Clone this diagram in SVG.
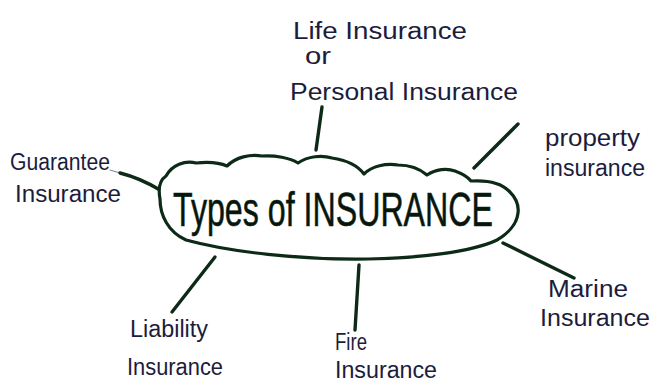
<svg xmlns="http://www.w3.org/2000/svg" width="654" height="385" viewBox="0 0 654 385">
  <style>
    .cloud { fill: #ffffff; stroke: #0c2a16; stroke-width: 3.2; stroke-linejoin: round; stroke-linecap: round; }
    .link { fill: none; stroke: #0c2a16; stroke-width: 3.4; stroke-linecap: round; }
    .thin { fill: none; stroke: #8a8a95; stroke-width: 1.2; stroke-linecap: round; }
    .hand { font-family: "Liberation Sans", "DejaVu Sans", sans-serif; font-size: 23px; fill: #1c1c3c; }
    .title { font-family: "Liberation Sans", "DejaVu Sans", sans-serif; font-size: 48px; fill: #08140c; stroke: #0c2a16; stroke-width: 0.6; }
  </style>
  <rect width="654" height="385" fill="#ffffff"/>

  <!-- connectors from the central cloud to each insurance type -->
  <g id="connectors">
    <path class="link" d="M322,107 L316,150"/>
    <path class="link" d="M518,124 L474,168"/>
    <path class="thin" d="M110,170 L120,173"/>
    <path class="link" d="M120,173 Q140,178 160,190"/>
    <path class="link" d="M215,257 L172,312"/>
    <path class="link" d="M359,265 L355,330"/>
    <path class="link" d="M503,243 L574,278"/>
  </g>

  <!-- central cloud -->
  <g id="center">
    <path class="cloud" d="M160,199
      C158,188 160,180 166,176
      C172,165 185,160 196,163
      C205,162 218,162 227,166
      C236,157 250,154 262,156
      C275,155 290,158 298,163
      C308,156 322,155 332,158
      C346,160 358,166 364,174
      C372,166 386,163 398,165
      C410,165 420,169 427,175
      C436,169 447,168 455,171
      C463,174 468,177 471,181
      C487,180 501,183 509,191
      C516,198 519,206 518,213
      C517,223 509,233 497,240
      C472,252 420,258 368,259
      C300,260 230,252 186,240
      C168,232 160,215 160,199 Z"/>
    <text class="title" x="173" y="226" textLength="320" lengthAdjust="spacingAndGlyphs">Types of INSURANCE</text>
  </g>

  <g id="life">
    <text class="hand" x="293" y="39" textLength="174" lengthAdjust="spacingAndGlyphs">Life Insurance</text>
    <text class="hand" x="305" y="64" textLength="26" lengthAdjust="spacingAndGlyphs">or</text>
    <text class="hand" x="290" y="100" textLength="228" lengthAdjust="spacingAndGlyphs">Personal Insurance</text>
  </g>

  <g id="property">
    <text class="hand" x="545" y="146" textLength="95" lengthAdjust="spacingAndGlyphs">property</text>
    <text class="hand" x="545" y="176" textLength="100" lengthAdjust="spacingAndGlyphs">insurance</text>
  </g>

  <g id="guarantee">
    <text class="hand" x="10" y="170" textLength="100" lengthAdjust="spacingAndGlyphs">Guarantee</text>
    <text class="hand" x="15" y="202" textLength="106" lengthAdjust="spacingAndGlyphs">Insurance</text>
  </g>

  <g id="liability">
    <text class="hand" x="130" y="337" textLength="78" lengthAdjust="spacingAndGlyphs">Liability</text>
    <text class="hand" x="127" y="375" textLength="96" lengthAdjust="spacingAndGlyphs">Insurance</text>
  </g>

  <g id="fire">
    <text class="hand" x="335" y="350" textLength="32" lengthAdjust="spacingAndGlyphs">Fire</text>
    <text class="hand" x="335" y="378" textLength="102" lengthAdjust="spacingAndGlyphs">Insurance</text>
  </g>

  <g id="marine">
    <text class="hand" x="548" y="297" textLength="80" lengthAdjust="spacingAndGlyphs">Marine</text>
    <text class="hand" x="540" y="326" textLength="110" lengthAdjust="spacingAndGlyphs">Insurance</text>
  </g>
</svg>
